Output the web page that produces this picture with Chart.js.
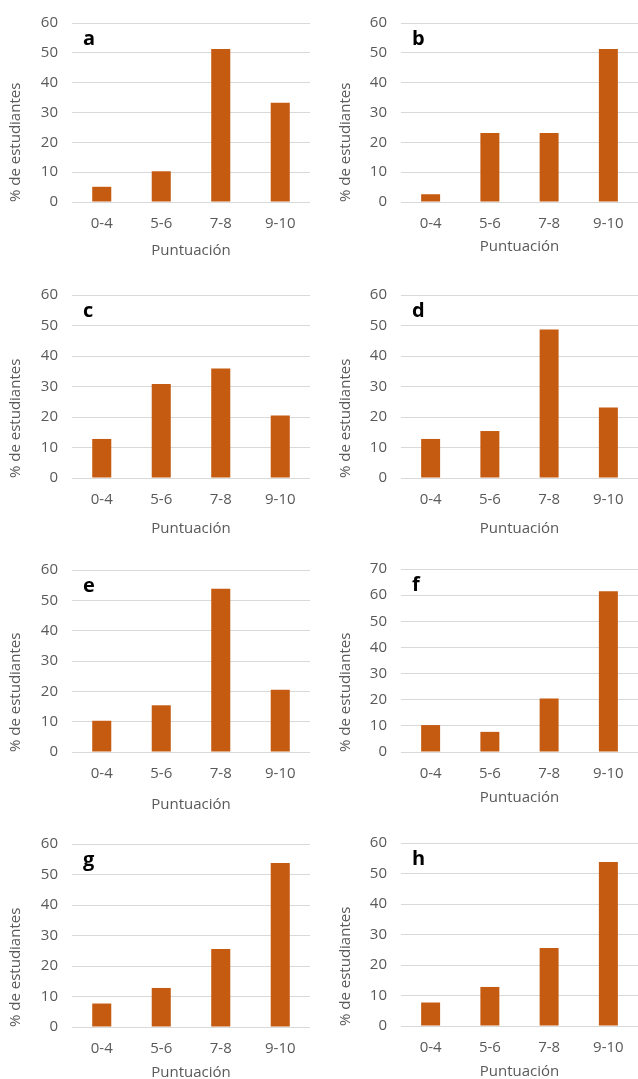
<!DOCTYPE html>
<html lang="es">
<head>
<meta charset="utf-8">
<title>% de estudiantes por puntuación</title>
<script src="https://cdn.jsdelivr.net/npm/chart.js@4.4.1/dist/chart.umd.min.js"></script>
<style>
  html, body { margin: 0; padding: 0; background: #fff; }
  body { width: 638px; height: 1079px; position: relative; overflow: hidden; }
  canvas { position: absolute; }
</style>
</head>
<body>
<script>
// Datos (% de estudiantes)
const categories = ['0-4', '5-6', '7-8', '9-10'];
const panelLetters = ['a', 'b', 'c', 'd', 'e', 'f', 'g', 'h'];
const valuesA = [5.1, 10.3, 51.3, 33.3];
const valuesB = [2.6, 23.1, 23.1, 51.3];
const valuesC = [12.8, 30.8, 35.9, 20.5];
const valuesD = [12.8, 15.4, 48.7, 23.1];
const valuesE = [10.3, 15.4, 53.8, 20.5];
const valuesF = [10.3, 7.7, 20.5, 61.5];
const valuesG = [7.7, 12.8, 25.6, 53.8];
const valuesH = [7.7, 12.8, 25.6, 53.8];
const yMax = [60, 60, 60, 60, 60, 70, 60, 60];
const yTitle = '% de estudiantes';
const xTitle = 'Puntuación';

const allValues = [valuesA, valuesB, valuesC, valuesD, valuesE, valuesF, valuesG, valuesH];

// Disposición de los paneles (px, coordenadas de la página)
const CANVAS_W = 320;
const CANVAS_H = 300;
const rowTop = [0, 0, 270, 270, 540, 540, 810, 810];
const plotTop = [20, 20, 295, 295, 570, 569, 844, 843];
const plotBottom = [202, 202, 478, 478, 752, 752, 1027, 1026];
const titleGap = [49, 45, 51, 51, 53, 46, 46, 46];
const TICK_GAP = 22;

const FONT = '"Open Sans", sans-serif';
const FONT_SIZE = 15;
const TEXT_COLOR = '#595959';
const BAR_COLOR = '#c55a11';
const GRID_COLOR = '#d9d9d9';

// Letra del panel (a, b, c...) arriba a la izquierda del área de trazado
const letterPlugin = {
    id: 'panelLetter',
    afterDraw(chart, args, opts) {
        const { ctx, chartArea } = chart;
        ctx.save();
        ctx.font = 'bold 20px ' + FONT;
        ctx.fillStyle = '#000';
        ctx.textBaseline = 'alphabetic';
        ctx.fillText(opts.text, chartArea.left + 11, chartArea.top + 22);
        ctx.restore();
    }
};

allValues.forEach((values, i) => {
    const right = i % 2 === 1;
    const canvas = document.createElement('canvas');
    canvas.width = CANVAS_W;
    canvas.height = CANVAS_H;
    canvas.style.left = (right ? 318 : 0) + 'px';
    canvas.style.top = rowTop[i] + 'px';
    document.body.appendChild(canvas);

    const axisWidth = right ? 83 : 72;
    const xAxisHeight = CANVAS_H - (plotBottom[i] - rowTop[i]);
    const lh = FONT_SIZE * 1.2;

    new Chart(canvas.getContext('2d'), {
        type: 'bar',
        data: {
            labels: categories,
            datasets: [{
                data: values,
                backgroundColor: BAR_COLOR,
                borderWidth: 0,
                barPercentage: 0.32,
                categoryPercentage: 1
            }]
        },
        options: {
            responsive: false,
            animation: false,
            devicePixelRatio: 1,
            layout: {
                padding: { top: plotTop[i] - rowTop[i], right: right ? 0 : 10, left: 0, bottom: 0 }
            },
            scales: {
                x: {
                    grid: { display: false, drawTicks: false },
                    border: { display: false },
                    ticks: {
                        color: TEXT_COLOR,
                        font: { family: FONT, size: FONT_SIZE },
                        padding: TICK_GAP - lh / 2,
                        maxRotation: 0
                    },
                    title: {
                        display: true,
                        text: xTitle,
                        color: TEXT_COLOR,
                        font: { family: FONT, size: FONT_SIZE },
                        padding: { top: 0, bottom: xAxisHeight - titleGap[i] - lh / 2 }
                    },
                    afterFit(scale) { scale.height = xAxisHeight; }
                },
                y: {
                    min: 0,
                    max: yMax[i],
                    grid: { color: GRID_COLOR, lineWidth: 1, drawTicks: false },
                    border: { display: false },
                    ticks: {
                        stepSize: 10,
                        color: TEXT_COLOR,
                        font: { family: FONT, size: FONT_SIZE },
                        padding: 14
                    },
                    title: {
                        display: true,
                        text: yTitle,
                        align: 'start',
                        color: TEXT_COLOR,
                        font: { family: FONT, size: FONT_SIZE },
                        padding: { top: (right ? 28 : 16) - lh / 2, bottom: 0 }
                    },
                    afterFit(scale) { scale.width = axisWidth; }
                }
            },
            plugins: {
                legend: { display: false },
                tooltip: { enabled: false },
                panelLetter: { text: panelLetters[i] }
            }
        },
        plugins: [letterPlugin]
    });
});
</script>
</body>
</html>
